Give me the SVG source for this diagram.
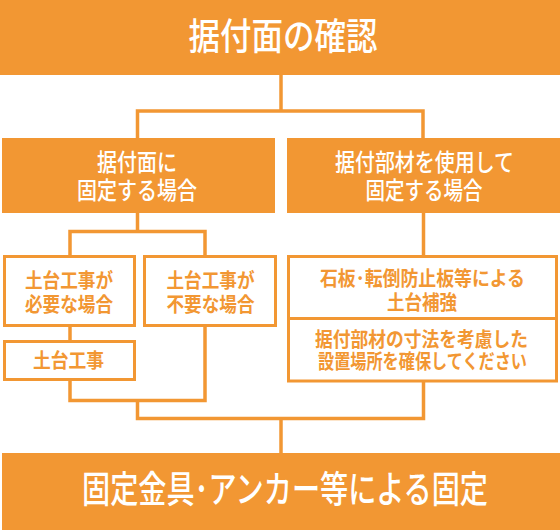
<svg xmlns="http://www.w3.org/2000/svg" width="560" height="530" viewBox="0 0 560 530">
<style>
.fill{fill:#F29733}
.box{fill:#FFFFFF;stroke:#F29733;stroke-width:3}
.con{fill:none;stroke:#F29733;stroke-width:3.5}
text{font-family:"Noto Sans CJK JP","Noto Sans CJK SC",sans-serif;text-anchor:middle}
.w{fill:#FFFFFF;font-weight:500}
.o{fill:#F29733;font-weight:700;font-size:20px}
.big{font-size:37px}
.mid{font-size:24px}
</style>
<rect x="0" y="0" width="560" height="530" fill="#FFFFFF"/>
<g id="connectors">
<path class="con" d="M281 75 V111"/>
<path class="con" d="M137.5 138 V111 H423 V138"/>
<path class="con" d="M137.5 213 V231.5"/>
<path class="con" d="M70 255 V231.5 H205 V255"/>
<path class="con" d="M70 327 V340"/>
<path class="con" d="M70 381 V400.5 H205 V327"/>
<path class="con" d="M137.5 400.5 V418.5 H423.5 V381"/>
<path class="con" d="M281 418.5 V453"/>
<path class="con" d="M423.5 213 V255"/>
</g>
<g id="top">
<rect class="fill" x="0" y="0" width="560" height="75"/>
<text class="w big" x="283" y="50" textLength="189" lengthAdjust="spacingAndGlyphs">据付面の確認</text>
</g>
<g id="left">
<rect class="fill" x="2" y="138" width="273" height="75"/>
<text class="w mid" x="137" y="171" textLength="80" lengthAdjust="spacingAndGlyphs">据付面に</text>
<text class="w mid" x="137" y="199" textLength="120" lengthAdjust="spacingAndGlyphs">固定する場合</text>
</g>
<g id="right">
<rect class="fill" x="287" y="138" width="273" height="75"/>
<text class="w mid" x="424.5" y="171" textLength="179" lengthAdjust="spacingAndGlyphs">据付部材を使用して</text>
<text class="w mid" x="424" y="199" textLength="117" lengthAdjust="spacingAndGlyphs">固定する場合</text>
</g>
<g id="needed">
<rect class="box" x="4.5" y="256.5" width="130" height="69"/>
<text class="o" x="69" y="288" textLength="88" lengthAdjust="spacingAndGlyphs">土台工事が</text>
<text class="o" x="69" y="312" textLength="88" lengthAdjust="spacingAndGlyphs">必要な場合</text>
</g>
<g id="notneeded">
<rect class="box" x="144.5" y="256.5" width="131" height="69"/>
<text class="o" x="210.5" y="288" textLength="88" lengthAdjust="spacingAndGlyphs">土台工事が</text>
<text class="o" x="210.5" y="312" textLength="88" lengthAdjust="spacingAndGlyphs">不要な場合</text>
</g>
<g id="work">
<rect class="box" x="4.5" y="341.5" width="130" height="38"/>
<text class="o" x="68.5" y="367.5" textLength="71" lengthAdjust="spacingAndGlyphs">土台工事</text>
</g>
<g id="reinforce">
<rect class="box" x="288.5" y="256.5" width="268" height="62"/>
<text class="o" x="422.5" y="285.5" textLength="205" lengthAdjust="spacingAndGlyphs">石板･転倒防止板等による</text>
<text class="o" x="422" y="309.5" textLength="70" lengthAdjust="spacingAndGlyphs">土台補強</text>
</g>
<g id="space">
<rect class="box" x="288.5" y="318.5" width="268" height="62.5"/>
<text class="o" x="421.5" y="346.5" textLength="213" lengthAdjust="spacingAndGlyphs">据付部材の寸法を考慮した</text>
<text class="o" x="422.5" y="368.5" textLength="209" lengthAdjust="spacingAndGlyphs">設置場所を確保してください</text>
</g>
<g id="bottom">
<rect class="fill" x="2" y="453" width="558" height="77"/>
<text class="w big" x="285" y="503" font-size="36" textLength="406" lengthAdjust="spacingAndGlyphs">固定金具･アンカー等による固定</text>
</g>
</svg>
